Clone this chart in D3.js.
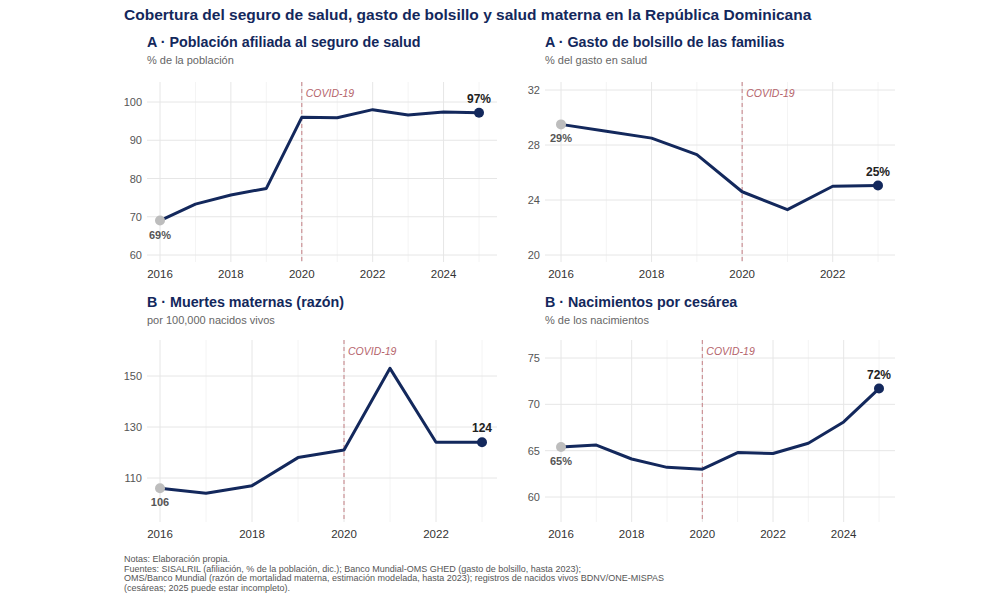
<!DOCTYPE html>
<html>
<head>
<script src="https://cdn.jsdelivr.net/npm/d3@7"></script>
<style>
body { margin: 0; background: #fff; font-family: "Liberation Sans", Arial, sans-serif; }
</style>
</head>
<body>
<div id="viz"></div>
<script>
//Data
var yearsA1 = [2016, 2017, 2018, 2019, 2020, 2021, 2022, 2023, 2024, 2025];
var afiliacion = [69, 73.3, 75.7, 77.4, 96, 95.9, 98, 96.6, 97.4, 97.2];
var yearsA2 = [2016, 2017, 2018, 2019, 2020, 2021, 2022, 2023];
var gastoBolsillo = [29.5, 29.0, 28.5, 27.3, 24.6, 23.3, 25.0, 25.05];
var yearsB1 = [2016, 2017, 2018, 2019, 2020, 2021, 2022, 2023];
var muertesMaternas = [106, 104, 107, 118, 121, 153, 124, 124];
var yearsB2 = [2016, 2017, 2018, 2019, 2020, 2021, 2022, 2023, 2024, 2025];
var cesareas = [65.4, 65.6, 64.1, 63.2, 63.0, 64.8, 64.7, 65.8, 68.1, 71.7];

var panels = [
    {title: "A · Población afiliada al seguro de salud", sub: "% de la población",
     years: yearsA1, vals: afiliacion, first: "69%", last: "97%",
     yTicks: [60, 70, 80, 90, 100], xTicks: [2016, 2018, 2020, 2022, 2024],
     tx: 147, ty: 42, x0: 160, x1: 479, xd: [2016, 2025], yd: [60, 100], yr: [255, 102], top: 82, bot: 262, right: 497},
    {title: "A · Gasto de bolsillo de las familias", sub: "% del gasto en salud",
     years: yearsA2, vals: gastoBolsillo, first: "29%", last: "25%",
     yTicks: [20, 24, 28, 32], xTicks: [2016, 2018, 2020, 2022],
     tx: 545, ty: 42, x0: 561, x1: 878, xd: [2016, 2023], yd: [20, 32], yr: [255, 90], top: 82, bot: 262, right: 895},
    {title: "B · Muertes maternas (razón)", sub: "por 100,000 nacidos vivos",
     years: yearsB1, vals: muertesMaternas, first: "106", last: "124",
     yTicks: [110, 130, 150], xTicks: [2016, 2018, 2020, 2022],
     tx: 147, ty: 302, x0: 160, x1: 482, xd: [2016, 2023], yd: [110, 150], yr: [478, 376], top: 340, bot: 522, right: 497},
    {title: "B · Nacimientos por cesárea", sub: "% de los nacimientos",
     years: yearsB2, vals: cesareas, first: "65%", last: "72%",
     yTicks: [60, 65, 70, 75], xTicks: [2016, 2018, 2020, 2022, 2024],
     tx: 545, ty: 302, x0: 561, x1: 879, xd: [2016, 2025], yd: [60, 75], yr: [497, 358], top: 340, bot: 522, right: 895}
];

var navy = "#13285c";
var svg = d3.select("#viz").append("svg").attr("width", 1000).attr("height", 600);

svg.append("text").attr("x", 124).attr("y", 20)
    .attr("font-size", 15.5).attr("font-weight", "bold").attr("fill", navy)
    .text("Cobertura del seguro de salud, gasto de bolsillo y salud materna en la República Dominicana");

panels.forEach(function(p) {
    var g = svg.append("g");
    var x = d3.scaleLinear().domain(p.xd).range([p.x0, p.x1]);
    var y = d3.scaleLinear().domain(p.yd).range(p.yr);
    var left = p.tx;

    g.append("text").attr("x", p.tx).attr("y", p.ty + 5).attr("font-size", 14.3)
        .attr("font-weight", "bold").attr("fill", navy).text(p.title);
    g.append("text").attr("x", p.tx).attr("y", p.ty + 22).attr("font-size", 11)
        .attr("fill", "#666").text(p.sub);

    //minor vertical grid (odd years)
    var allYears = d3.range(p.xd[0], p.xd[1] + 1);
    g.selectAll(".vminor").data(allYears.filter(function(d) { return p.xTicks.indexOf(d) < 0; }))
        .enter().append("line")
        .attr("x1", function(d) { return x(d); }).attr("x2", function(d) { return x(d); })
        .attr("y1", p.top).attr("y2", p.bot).attr("stroke", "#f4f4f4");
    g.selectAll(".vgrid").data(p.xTicks).enter().append("line")
        .attr("x1", function(d) { return x(d); }).attr("x2", function(d) { return x(d); })
        .attr("y1", p.top).attr("y2", p.bot).attr("stroke", "#e6e6e6");
    g.selectAll(".hgrid").data(p.yTicks).enter().append("line")
        .attr("x1", left).attr("x2", p.right)
        .attr("y1", function(d) { return y(d); }).attr("y2", function(d) { return y(d); })
        .attr("stroke", "#e6e6e6");

    g.selectAll(".ylab").data(p.yTicks).enter().append("text")
        .attr("x", left - 5).attr("y", function(d) { return y(d) + 4; })
        .attr("text-anchor", "end").attr("font-size", 11).attr("fill", "#555")
        .text(function(d) { return d; });
    g.selectAll(".xlab").data(p.xTicks).enter().append("text")
        .attr("x", function(d) { return x(d); }).attr("y", p.bot + 16)
        .attr("text-anchor", "middle").attr("font-size", 11.5).attr("fill", "#333")
        .text(function(d) { return d; });

    //COVID line
    g.append("line").attr("x1", x(2020)).attr("x2", x(2020)).attr("y1", p.top).attr("y2", p.bot)
        .attr("stroke", "#c98a8f").attr("stroke-dasharray", "4,3").attr("stroke-width", 1.1);
    g.append("text").attr("x", x(2020) + 4).attr("y", p.top + 15).attr("font-size", 10.5)
        .attr("font-style", "italic").attr("fill", "#b5646b").text("COVID-19");

    var data = p.years.map(function(yr, i) { return [yr, p.vals[i]]; });
    g.append("path").datum(data)
        .attr("d", d3.line().x(function(d) { return x(d[0]); }).y(function(d) { return y(d[1]); }))
        .attr("fill", "none").attr("stroke", navy).attr("stroke-width", 3).attr("stroke-linejoin", "round");

    var f = data[0], l = data[data.length - 1];
    g.append("circle").attr("cx", x(f[0])).attr("cy", y(f[1])).attr("r", 5).attr("fill", "#bdbdbd");
    g.append("circle").attr("cx", x(l[0])).attr("cy", y(l[1])).attr("r", 5).attr("fill", navy);
    g.append("text").attr("x", x(f[0])).attr("y", y(f[1]) + 18).attr("text-anchor", "middle")
        .attr("font-size", 11).attr("font-weight", "bold").attr("fill", "#555").text(p.first);
    g.append("text").attr("x", x(l[0])).attr("y", y(l[1]) - 10).attr("text-anchor", "middle")
        .attr("font-size", 12).attr("font-weight", "bold").attr("fill", "#222").text(p.last);
});

var notes = [
    "Notas: Elaboración propia.",
    "Fuentes: SISALRIL (afiliación, % de la población, dic.); Banco Mundial-OMS GHED (gasto de bolsillo, hasta 2023);",
    "OMS/Banco Mundial (razón de mortalidad materna, estimación modelada, hasta 2023); registros de nacidos vivos BDNV/ONE-MISPAS",
    "(cesáreas; 2025 puede estar incompleto)."
];
svg.selectAll(".note").data(notes).enter().append("text")
    .attr("x", 124).attr("y", function(d, i) { return 562 + i * 9.5; })
    .attr("font-size", 9).attr("fill", "#555").text(function(d) { return d; });
</script>
</body>
</html>
